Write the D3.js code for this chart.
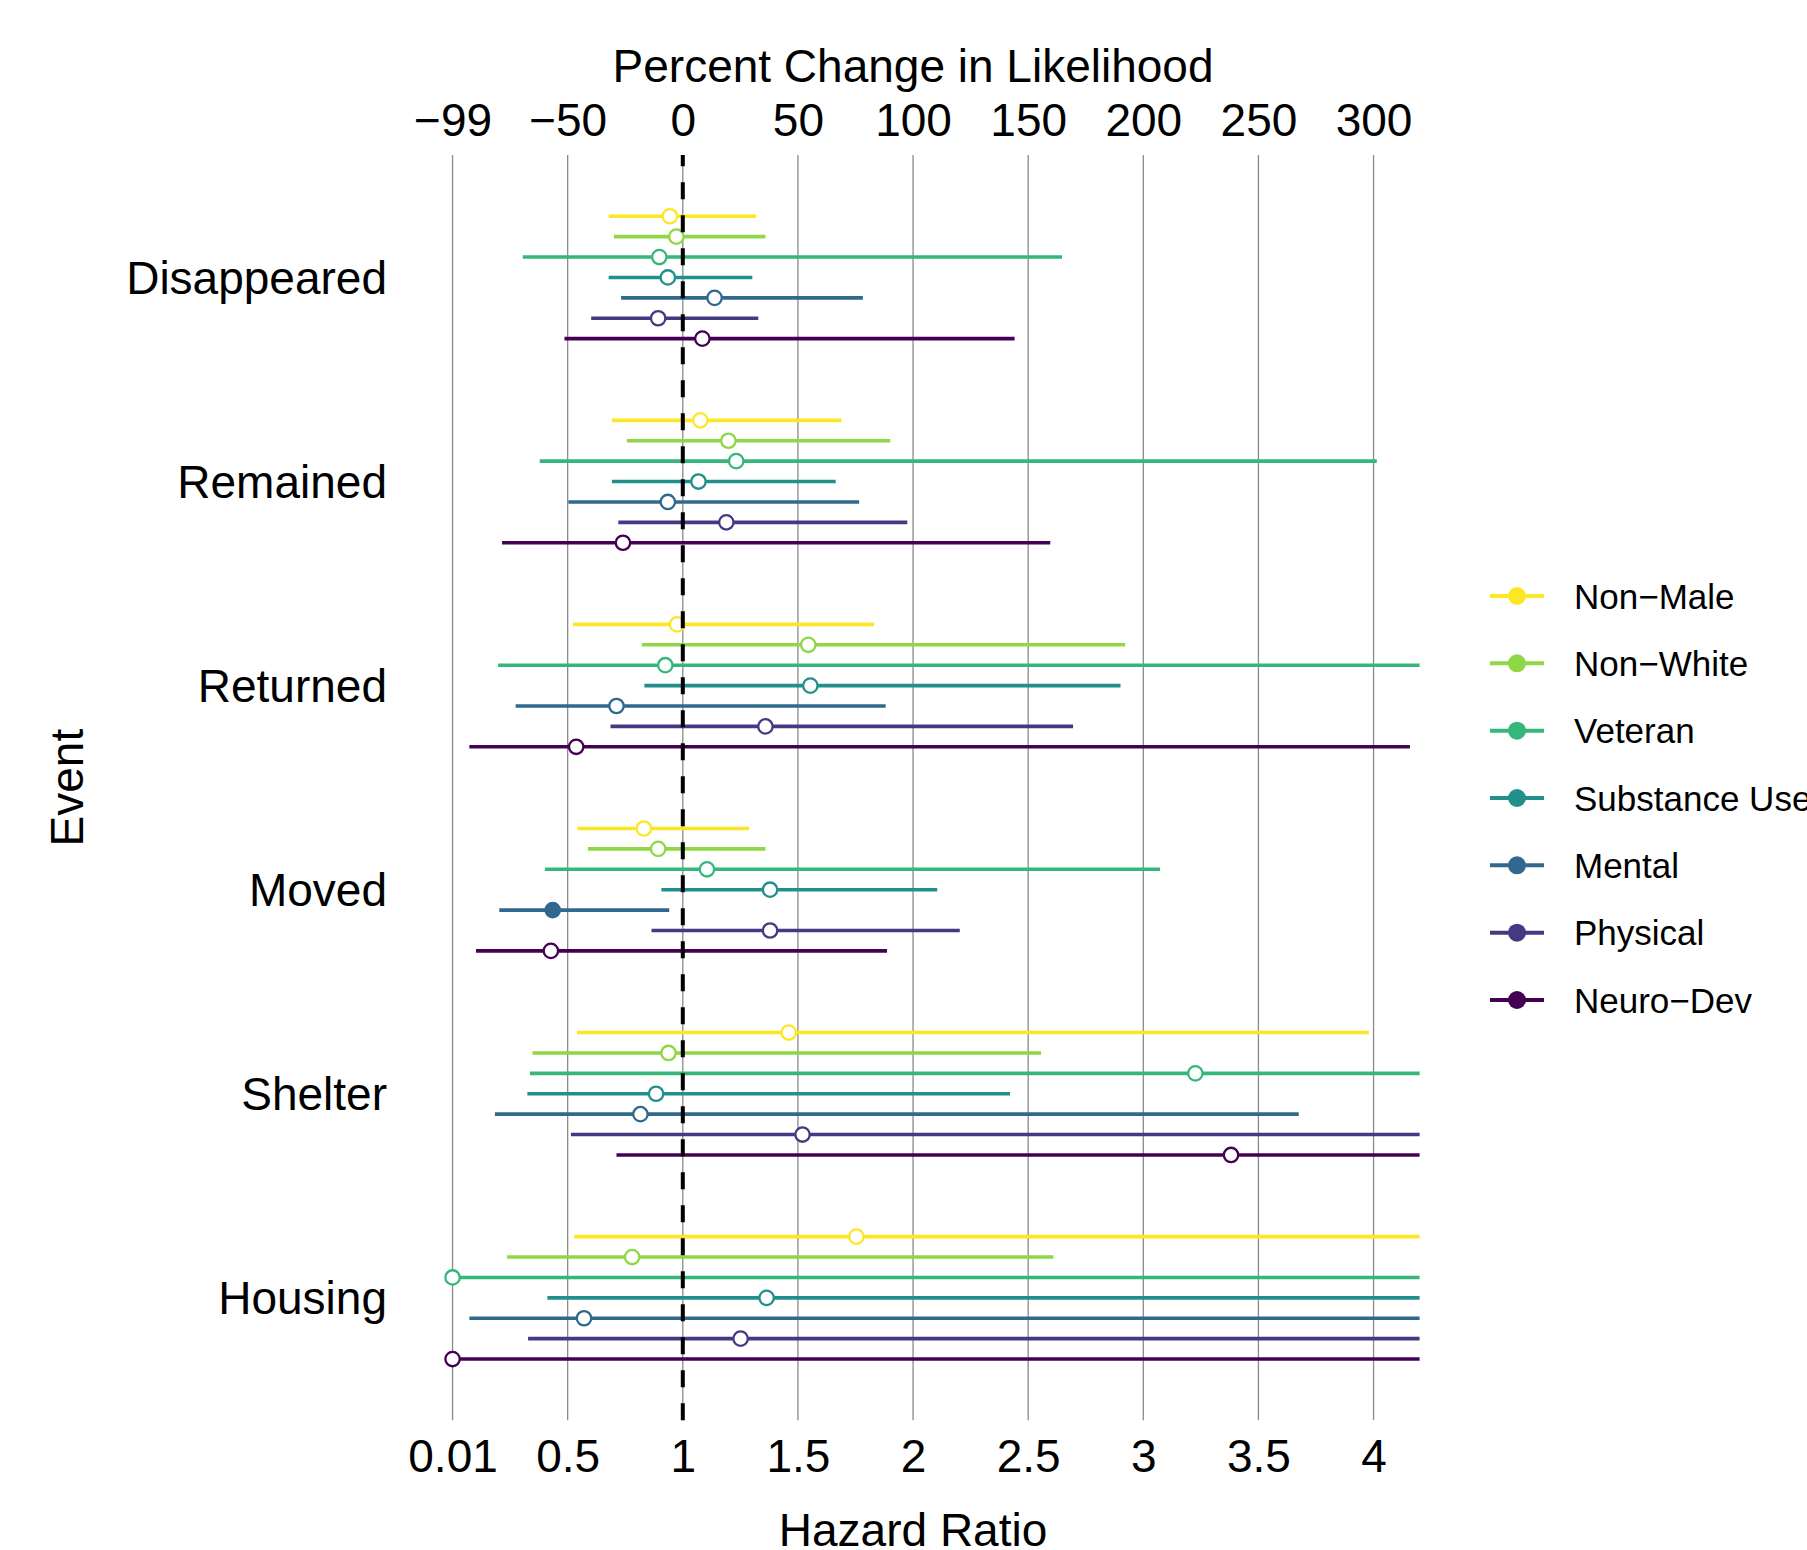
<!DOCTYPE html>
<html>
<head>
<meta charset="utf-8">
<script src="https://cdn.jsdelivr.net/npm/d3@7"></script>
<style>
  html, body { margin: 0; padding: 0; background: #fff; }
  svg { display: block; }
  text { font-family: "Liberation Sans", Arial, Helvetica, sans-serif; fill: #000; }
</style>
</head>
<body>
<svg id="chart" width="1807" height="1550"></svg>
<script>
// ---------------- data ----------------
const events = ["Disappeared", "Remained", "Returned", "Moved", "Shelter", "Housing"];
const groups = ["Non-Male", "Non-White", "Veteran", "Substance Use", "Mental", "Physical", "Neuro-Dev"];
const groupLabels = ["Non\u2212Male", "Non\u2212White", "Veteran", "Substance Use", "Mental", "Physical", "Neuro\u2212Dev"];
const groupColors = ["#FDE725", "#8FD744", "#35B779", "#21908C", "#31688E", "#443A83", "#440154"];

// hazard ratio estimates, per group, in event order
const hrNonMale   = [0.944, 1.076, 0.975, 0.831, 1.460, 1.754];
const hrNonWhite  = [0.972, 1.198, 1.545, 0.893, 0.938, 0.780];
const hrVeteran   = [0.898, 1.232, 0.924, 1.105, 3.226, 0.000];
const hrSubstance = [0.935, 1.068, 1.554, 1.379, 0.884, 1.364];
const hrMental    = [1.138, 0.935, 0.712, 0.435, 0.816, 0.571];
const hrPhysical  = [0.893, 1.189, 1.359, 1.379, 1.520, 1.251];
const hrNeuroDev  = [1.085, 0.740, 0.537, 0.427, 3.381, 0.000];

// lower confidence bounds
const loNonMale   = [0.678, 0.692, 0.523, 0.542, 0.540, 0.528];
const loNonWhite  = [0.701, 0.757, 0.822, 0.588, 0.347, 0.237];
const loVeteran   = [0.305, 0.379, 0.198, 0.401, 0.336, 0.000];
const loSubstance = [0.678, 0.692, 0.833, 0.907, 0.325, 0.412];
const loMental    = [0.732, 0.503, 0.274, 0.203, 0.184, 0.073];
const loPhysical  = [0.602, 0.720, 0.686, 0.864, 0.514, 0.328];
const loNeuroDev  = [0.486, 0.215, 0.073, 0.102, 0.712, 0.000];

// upper confidence bounds (values beyond 4.2 are cut off by the panel)
const hiNonMale   = [1.319, 1.689, 1.831, 1.288, 3.980, 5.600];
const hiNonWhite  = [1.359, 1.901, 2.921, 1.359, 2.556, 2.610];
const hiVeteran   = [2.647, 4.014, 4.900, 3.073, 9.500, 8.000];
const hiSubstance = [1.302, 1.664, 2.901, 2.105, 2.421, 4.600];
const hiMental    = [1.782, 1.766, 1.881, 0.941, 3.675, 4.400];
const hiPhysical  = [1.328, 1.975, 2.695, 2.203, 4.700, 4.800];
const hiNeuroDev  = [2.441, 2.596, 4.158, 1.887, 15.00, 9.000];

// significance (filled point)
const sigMental   = [false, false, false, true, false, false];

// axis ticks
const hrTicks      = [0, 0.5, 1, 1.5, 2, 2.5, 3, 3.5, 4];
const hrTickLabels = ["0.01", "0.5", "1", "1.5", "2", "2.5", "3", "3.5", "4"];
const pctTickLabels = ["\u221299", "\u221250", "0", "50", "100", "150", "200", "250", "300"];

// ---------------- build rows ----------------
const hrAll = [hrNonMale, hrNonWhite, hrVeteran, hrSubstance, hrMental, hrPhysical, hrNeuroDev];
const loAll = [loNonMale, loNonWhite, loVeteran, loSubstance, loMental, loPhysical, loNeuroDev];
const hiAll = [hiNonMale, hiNonWhite, hiVeteran, hiSubstance, hiMental, hiPhysical, hiNeuroDev];
const rows = [];
groups.forEach((g, gi) => {
  events.forEach((e, ei) => {
    rows.push({
      group: g, event: e, color: groupColors[gi],
      hr: hrAll[gi][ei], lo: loAll[gi][ei], hi: hiAll[gi][ei],
      sig: g === "Mental" ? sigMental[ei] : false
    });
  });
});

// ---------------- layout ----------------
const svg = d3.select("#chart");
const panel = { left: 406.5, right: 1419.6, top: 155, bottom: 1420.3 };

const x = d3.scaleLinear().domain([-0.2, 4.2]).range([panel.left, panel.right]);
const yStep = (panel.bottom - panel.top) / (events.length - 1 + 1.2);
const y = d3.scalePoint().domain(events)
  .range([panel.top + 0.6 * yStep, panel.bottom - 0.6 * yStep]);
const dodge = 20.4;
const yOff = d3.scalePoint().domain(groups).range([-3 * dodge, 3 * dodge]);

svg.append("defs").append("clipPath").attr("id", "clip")
  .append("rect")
  .attr("x", panel.left).attr("y", panel.top)
  .attr("width", panel.right - panel.left).attr("height", panel.bottom - panel.top);

// gridlines
svg.append("g").selectAll("line").data(hrTicks).join("line")
  .attr("x1", d => x(d)).attr("x2", d => x(d))
  .attr("y1", panel.top).attr("y2", panel.bottom)
  .attr("stroke", "#8a8a8a").attr("stroke-width", 1.3);

// bottom axis labels
const bottomAxis = d3.axisBottom(x).tickValues(hrTicks)
  .tickFormat((d, i) => hrTickLabels[i]).tickSize(0).tickPadding(0);
const gB = svg.append("g").attr("transform", `translate(0,${panel.bottom})`).call(bottomAxis);
gB.select(".domain").remove();
gB.selectAll("text").attr("font-size", 46).attr("y", 52).attr("dy", 0)
  .style("font-family", "'Liberation Sans', Arial, sans-serif").attr("fill", "#000");

// top axis labels (percent change = (HR - 1) * 100)
const topAxis = d3.axisTop(x).tickValues(hrTicks)
  .tickFormat((d, i) => pctTickLabels[i]).tickSize(0).tickPadding(0);
const gT = svg.append("g").attr("transform", `translate(0,${panel.top})`).call(topAxis);
gT.select(".domain").remove();
gT.selectAll("text").attr("font-size", 46).attr("y", -19).attr("dy", 0)
  .style("font-family", "'Liberation Sans', Arial, sans-serif").attr("fill", "#000");

// y axis labels
const leftAxis = d3.axisLeft(y).tickSize(0).tickPadding(0);
const gL = svg.append("g").attr("transform", `translate(387,0)`).call(leftAxis);
gL.select(".domain").remove();
gL.selectAll("text").attr("font-size", 46).attr("x", 0).attr("dy", "0.35em")
  .style("font-family", "'Liberation Sans', Arial, sans-serif").attr("fill", "#000");

// axis titles
svg.append("text").attr("x", (panel.left + panel.right) / 2).attr("y", 82)
  .attr("text-anchor", "middle").attr("font-size", 46).text("Percent Change in Likelihood");
svg.append("text").attr("x", (panel.left + panel.right) / 2).attr("y", 1546)
  .attr("text-anchor", "middle").attr("font-size", 46).text("Hazard Ratio");
svg.append("text")
  .attr("transform", `translate(83,${(panel.top + panel.bottom) / 2}) rotate(-90)`)
  .attr("text-anchor", "middle").attr("font-size", 46).text("Event");

// intervals and points
const marks = svg.append("g").attr("clip-path", "url(#clip)");
marks.selectAll("line.ci").data(rows).join("line").attr("class", "ci")
  .attr("x1", d => x(d.lo)).attr("x2", d => x(d.hi))
  .attr("y1", d => y(d.event) + yOff(d.group)).attr("y2", d => y(d.event) + yOff(d.group))
  .attr("stroke", d => d.color).attr("stroke-width", 3.6);

// reference line at HR = 1
svg.append("line")
  .attr("x1", x(1)).attr("x2", x(1))
  .attr("y1", panel.bottom).attr("y2", panel.top)
  .attr("stroke", "#000").attr("stroke-width", 4)
  .attr("stroke-dasharray", "17,16");

marks.selectAll("circle.pt").data(rows).join("circle").attr("class", "pt")
  .attr("cx", d => x(d.hr)).attr("cy", d => y(d.event) + yOff(d.group))
  .attr("r", 7.2)
  .attr("fill", d => d.sig ? d.color : "#fff")
  .attr("stroke", d => d.color).attr("stroke-width", 2.3);

// legend
const legY = d3.scalePoint().domain(groups).range([596, 1000]);
const leg = svg.append("g");
const li = leg.selectAll("g").data(groups).join("g")
  .attr("transform", d => `translate(0,${legY(d)})`);
li.append("line").attr("x1", 1490).attr("x2", 1544).attr("y1", 0).attr("y2", 0)
  .attr("stroke", (d, i) => groupColors[i]).attr("stroke-width", 4);
li.append("circle").attr("cx", 1517).attr("cy", 0).attr("r", 9)
  .attr("fill", (d, i) => groupColors[i]);
li.append("text").attr("x", 1574).attr("y", 0).attr("dy", "0.36em")
  .attr("font-size", 35).text((d, i) => groupLabels[i]);
</script>
</body>
</html>
